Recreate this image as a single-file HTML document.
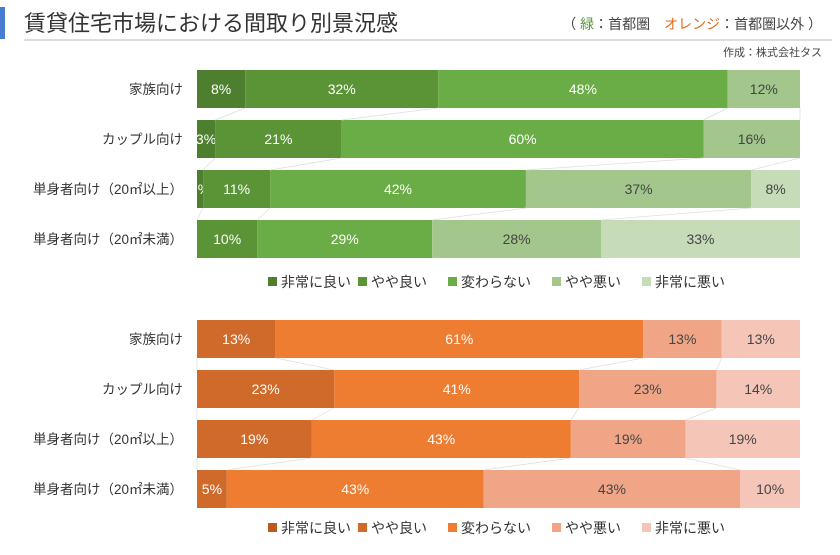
<!DOCTYPE html>
<html><head><meta charset="utf-8"><style>
body{margin:0;background:#fff;width:840px;height:550px;overflow:hidden;font-family:"Liberation Sans","Noto Sans CJK JP",sans-serif}
</style></head><body>
<svg id="c" width="840" height="550" xmlns="http://www.w3.org/2000/svg" font-family="Liberation Sans, Noto Sans CJK JP, sans-serif">
<rect x="0" y="7" width="5" height="32" fill="#4a7bd0"/>
<text x="24" y="31" font-size="22" fill="#333">賃貸住宅市場における間取り別景況感</text>
<text x="822" y="29" font-size="14" fill="#444" text-anchor="end">（ <tspan fill="#5a9436">緑</tspan>：首都圏　<tspan fill="#e06a1a">オレンジ</tspan>：首都圏以外 ）</text>
<line x1="24" y1="40" x2="832" y2="40" stroke="#bbb" stroke-width="1"/>
<text x="822" y="56" font-size="11" fill="#444" text-anchor="end">作成：株式会社タス</text>
<g id="g1"></g>
<g id="g2"></g>
</svg>
<script>
const categories=["家族向け","カップル向け","単身者向け（20㎡以上）","単身者向け（20㎡未満）"];
const seriesNames=["非常に良い","やや良い","変わらない","やや悪い","非常に悪い"];
const greenVeryGood=[8,3,1,0];
const greenGood=[32,21,11,10];
const greenSame=[48,60,42,29];
const greenBad=[12,16,37,28];
const greenVeryBad=[0,0,8,33];
const orangeVeryGood=[0,0,0,0];
const orangeGood=[13,23,19,5];
const orangeSame=[61,41,43,43];
const orangeBad=[13,23,19,43];
const orangeVeryBad=[13,14,19,10];
const greenColors=["#4e7f2e","#5a9436","#6aac45","#a2c68c","#c6dcb8"];
const orangeColors=["#b85a22","#d06a2a","#ee7d32","#f0a587","#f5c6b8"];
const NS="http://www.w3.org/2000/svg";
const x0=197,x1=800;
function xs(v,tot){return x0+(x1-x0)*v/tot;}
function mk(t,a,p){const e=document.createElementNS(NS,t);for(const k in a)e.setAttribute(k,a[k]);p.appendChild(e);return e;}
function draw(gid,series,colors,top,legY,prefix){
  const g=document.getElementById(gid);
  const step=50,bh=38;
  const ends=[];
  categories.forEach((cat,i)=>{
    const y=top+i*step;
    const tot=series.reduce((a,s)=>a+s[i],0);
    const lab=mk('text',{x:183,y:y+bh/2+5,'font-size':13.5,fill:'#333','text-anchor':'end'},g);
    
    
    lab.textContent=cat;
    let acc=0;const e=[];
    series.forEach((s,j)=>{
      const v=s[i];
      const xa=xs(acc,tot),xb=xs(acc+v,tot);
      if(v>0){
        const r=mk('rect',{x:xa,y:y,width:xb-xa,height:bh,fill:colors[j]},g);
        
        
        const t=mk('text',{x:(xa+xb)/2,y:y+bh/2+5,'font-size':14,fill:j<3?'#fff':'#444','text-anchor':'middle'},g);
        
        
        t.textContent=v+'%';
      }
      acc+=v;e.push(xb);
    });
    ends.push(e);
  });
  for(let i=0;i<categories.length-1;i++){
    for(let j=0;j<4;j++){
      const l=mk('line',{x1:ends[i][j],y1:top+i*step+bh,x2:ends[i+1][j],y2:top+(i+1)*step,stroke:'#ddd','stroke-width':0.7},g);
      
      
    }
  }
  const lw=[76,76,90,76,76];let lx=268;
  seriesNames.forEach((n,j)=>{
    const r=mk('rect',{x:lx,y:legY-10,width:9,height:9,fill:colors[j]},g);
    
    
    const t=mk('text',{x:lx+13,y:legY,'font-size':14,fill:'#333'},g);
    
    
    t.textContent=n;
    lx+=lw[j]+14;
  });
}
draw('g1',[greenVeryGood,greenGood,greenSame,greenBad,greenVeryBad],greenColors,70,287,'green');
draw('g2',[orangeVeryGood,orangeGood,orangeSame,orangeBad,orangeVeryBad],orangeColors,320,533,'orange');
</script>
</body></html>
